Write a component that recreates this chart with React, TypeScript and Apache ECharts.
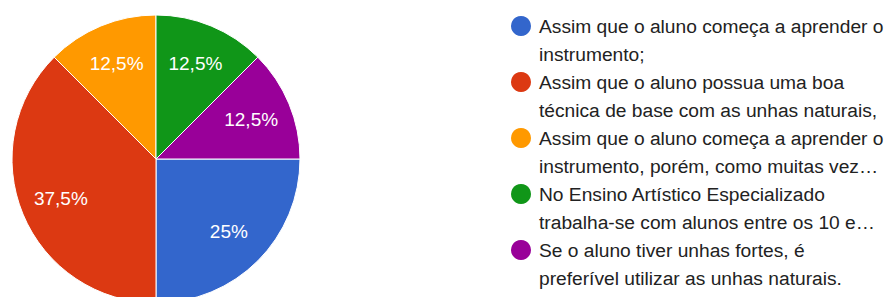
import React, { useEffect, useRef } from "react";
import * as echarts from "echarts";

const categories = [
  "Assim que o aluno começa a aprender o\ninstrumento;",
  "Assim que o aluno possua uma boa\ntécnica de base com as unhas naturais,",
  "Assim que o aluno começa a aprender o\ninstrumento, porém, como muitas vez…",
  "No Ensino Artístico Especializado\ntrabalha-se com alunos entre os 10 e…",
  "Se o aluno tiver unhas fortes, é\npreferível utilizar as unhas naturais.",
];
const values = [2, 3, 1, 1, 1];
const colors = ["#3366cc", "#dc3912", "#ff9900", "#109618", "#990099"];

const FONT = "'Liberation Sans', Arial, sans-serif";

export default function App() {
  const ref = useRef<HTMLDivElement>(null);
  useEffect(() => {
    if (!ref.current) return;
    const chart = echarts.init(ref.current, undefined, { renderer: "svg" });
    const data = categories.map((name, i) => ({ name, value: values[i] }));
    chart.setOption({
      animation: false,
      color: colors,
      legend: {
        orient: "vertical",
        left: 511,
        top: -16,
        padding: 0,
        itemWidth: 26,
        itemHeight: 20,
        itemGap: -28,
        icon: "circle",
        data: categories,
        selectedMode: false,
        itemStyle: { borderWidth: 0 },
        formatter: (name: string) => "\n" + name,
        textStyle: {
          fontSize: 19.2,
          lineHeight: 28,
          color: "#222222",
          fontFamily: FONT,
        },
      },
      series: [
        {
          type: "pie",
          center: [156, 159],
          radius: [0, 144],
          startAngle: 0,
          clockwise: true,
          silent: true,
          label: { show: false },
          labelLine: { show: false },
          itemStyle: { borderColor: "#ffffff", borderWidth: 1 },
          data,
        },
        {
          type: "pie",
          center: [156, 159],
          radius: [56, 144],
          startAngle: 0,
          clockwise: true,
          silent: true,
          itemStyle: { color: "rgba(0,0,0,0)" },
          label: {
            show: true,
            position: "inside",
            color: "#ffffff",
            fontSize: 19,
            fontFamily: FONT,
            formatter: (p: any) => String(p.percent).replace(".", ",") + "%",
          },
          labelLine: { show: false },
          data,
        },
      ],
    });
    return () => chart.dispose();
  }, []);
  return (
    <div
      ref={ref}
      style={{ position: "fixed", left: 0, top: 0, width: 888, height: 297, background: "#fff" }}
    />
  );
}
